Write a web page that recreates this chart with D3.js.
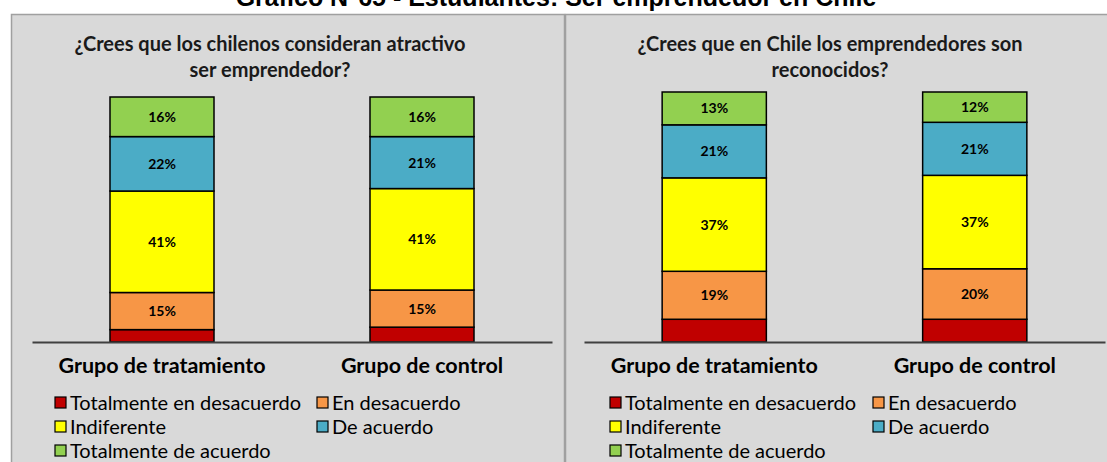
<!DOCTYPE html>
<html lang="es">
<head>
<meta charset="utf-8">
<title>Estudiantes: ser emprendedor en Chile</title>
<script src="https://cdn.jsdelivr.net/npm/d3@7"></script>
<style>
  html, body { margin: 0; padding: 0; background: #ffffff; }
  svg { display: block; }
</style>
</head>
<body>
<svg id="chart" width="1107" height="462"></svg>
<script>
// Groups compared in both panels
const categories = ["Grupo de tratamiento", "Grupo de control"];

// Answer scale, bottom to top of each stacked bar
const seriesNames = [
  "Totalmente en desacuerdo",
  "En desacuerdo",
  "Indiferente",
  "De acuerdo",
  "Totalmente de acuerdo"
];
const seriesColors = ["#c00000", "#f79646", "#ffff00", "#4bacc6", "#92d050"];

// Percentages per group, in the order of seriesNames
const atractivoTratamiento = [5, 15, 41, 22, 16];
const atractivoControl     = [6, 15, 41, 21, 16];
const reconocidoTratamiento = [9, 19, 37, 21, 13];
const reconocidoControl     = [9, 20, 37, 21, 12];

// Panel titles (two lines each)
const atractivoTitle  = ["¿Crees que los chilenos consideran atractivo", "ser emprendedor?"];
const reconocidoTitle = ["¿Crees que en Chile los emprendedores son", "reconocidos?"];

const mainTitle = "Gráfico N°65 - Estudiantes: Ser emprendedor en Chile";

const svg = d3.select("#chart");
const FONT = "Lato, 'Open Sans', sans-serif";

// Main heading (partly above the visible area)
svg.append("text")
  .attr("x", 556).attr("y", 6)
  .attr("text-anchor", "middle")
  .attr("font-family", "'Liberation Sans', Arial, sans-serif")
  .attr("font-weight", "bold")
  .attr("font-size", 25)
  .attr("fill", "#000")
  .text(mainTitle);

const panels = [
  {
    box: [11, 14, 553, 460],
    title: atractivoTitle, titleX: 270,
    xRange: [32, 552], yRange: [342, 97],
    values: [atractivoTratamiento, atractivoControl],
    legendX: [55, 317]
  },
  {
    box: [565, 14, 560, 460],
    title: reconocidoTitle, titleX: 830,
    xRange: [584, 1105], yRange: [342, 92],
    values: [reconocidoTratamiento, reconocidoControl],
    legendX: [610, 873]
  }
];

panels.forEach(p => {
  const g = svg.append("g");

  // Panel background
  g.append("rect")
    .attr("x", p.box[0] + 0.5).attr("y", p.box[1] + 0.5)
    .attr("width", p.box[2]).attr("height", p.box[3])
    .attr("fill", "#d9d9d9")
    .attr("stroke", "#a0a0a0")
    .attr("stroke-width", 1.5);

  // Panel title
  g.append("text")
    .attr("text-anchor", "middle")
    .attr("font-family", FONT)
    .attr("font-weight", "bold")
    .attr("font-size", 20)
    .attr("fill", "#1a1a1a")
    .selectAll("tspan")
    .data(p.title)
    .join("tspan")
      .attr("x", p.titleX)
      .attr("y", (d, i) => 51 + i * 26)
      .text(d => d);

  // Table of rows keyed by series name, one row per group
  const rows = categories.map((c, ci) => {
    const row = { group: c };
    seriesNames.forEach((s, si) => { row[s] = p.values[ci][si]; });
    return row;
  });

  const stacked = d3.stack()
    .keys(seriesNames)
    .offset(d3.stackOffsetExpand)(rows);

  const x = d3.scaleBand()
    .domain(categories)
    .range(p.xRange)
    .paddingInner(0.6)
    .paddingOuter(0.3);

  const y = d3.scaleLinear().domain([0, 1]).range(p.yRange);

  const layers = g.selectAll("g.layer")
    .data(stacked)
    .join("g")
      .attr("class", "layer")
      .attr("fill", (d, i) => seriesColors[i]);

  layers.selectAll("rect")
    .data(d => d.map(v => Object.assign(v, { key: d.key })))
    .join("rect")
      .attr("x", d => x(d.data.group))
      .attr("width", x.bandwidth())
      .attr("y", d => y(d[1]))
      .attr("height", d => y(d[0]) - y(d[1]))
      .attr("stroke", "#000")
      .attr("stroke-width", 1.5);

  // Value labels for every segment except the bottom one
  layers.filter((d, i) => i > 0)
    .selectAll("text")
    .data(d => d)
    .join("text")
      .attr("x", d => x(d.data.group) + x.bandwidth() / 2)
      .attr("y", d => (y(d[0]) + y(d[1])) / 2)
      .attr("dy", "0.36em")
      .attr("text-anchor", "middle")
      .attr("font-family", FONT)
      .attr("font-weight", "bold")
      .attr("font-size", 14)
      .attr("fill", "#000")
      .text(d => d.data[d.key] + "%");

  // Category axis
  const axis = g.append("g")
    .attr("transform", `translate(0,${p.yRange[0]})`)
    .call(d3.axisBottom(x).tickSize(0).tickPadding(0));
  axis.select(".domain")
    .attr("stroke", "#404040")
    .attr("stroke-width", 2);
  axis.selectAll(".tick text")
    .attr("y", 31)
    .attr("dy", 0)
    .attr("fill", "#000")
    .attr("font-family", FONT)
    .attr("font-weight", "bold")
    .attr("font-size", 21.5);

  // Legend: two columns, reading left to right
  const legend = g.selectAll("g.legend-item")
    .data(seriesNames)
    .join("g")
      .attr("class", "legend-item")
      .attr("transform", (d, i) =>
        `translate(${p.legendX[i % 2]},${403 + Math.floor(i / 2) * 24})`);

  legend.append("rect")
    .attr("x", 0).attr("y", -6)
    .attr("width", 11).attr("height", 11)
    .attr("fill", (d, i) => seriesColors[i])
    .attr("stroke", "#000")
    .attr("stroke-width", 1.2);

  legend.append("text")
    .attr("x", 15).attr("y", 0)
    .attr("dy", "0.36em")
    .attr("font-family", FONT)
    .attr("font-size", 20)
    .attr("fill", "#000")
    .text(d => d);
});
</script>
</body>
</html>
